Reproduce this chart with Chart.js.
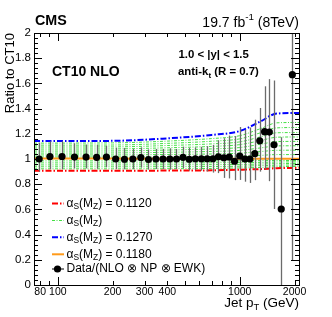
<!DOCTYPE html>
<html>
<head>
<meta charset="utf-8">
<script src="https://cdn.jsdelivr.net/npm/chart.js@4.4.1/dist/chart.umd.min.js"></script>
<style>
  html, body { margin: 0; padding: 0; background: #fff; }
  canvas { display: block; }
</style>
</head>
<body>
<canvas id="c" width="332" height="317"></canvas>
<script>
// --- data ---
const PT = [79, 90.5, 105.5, 123.5, 143, 163.5, 185, 208, 232.5, 258.5, 286, 315, 346, 378.5,
  412.5, 449, 487.5, 527.5, 570, 615, 662, 711.5, 763.5, 818, 875.5, 936, 999.5, 1066.5,
  1136.5, 1210, 1287.5, 1368.5, 1453.5, 1542.5, 1690, 1945];
const RATIO = [1.00, 1.02, 1.02, 1.015, 1.015, 1.013, 1.015, 1.00, 0.998, 1.00, 1.012, 0.996, 1.00, 1.00,
  1.00, 1.00, 1.013, 0.998, 1.002, 1.002, 1.002, 1.002, 1.018, 1.01, 1.016, 0.982, 1.024, 1.00,
  1.00, 1.042, 1.145, 1.217, 1.214, 1.113, 0.603, 1.669];
const ERR_UP = [0.13, 0.12, 0.12, 0.11, 0.10, 0.10, 0.09, 0.09, 0.09, 0.08, 0.08, 0.08, 0.08, 0.08,
  0.085, 0.08, 0.085, 0.09, 0.09, 0.095, 0.10, 0.11, 0.13, 0.155, 0.17, 0.20, 0.23, 0.23,
  0.25, 0.27, 0.26, 0.36, 0.42, 0.51, 0.57, 0.9];
const ERR_DN = [0.10, 0.10, 0.10, 0.09, 0.09, 0.09, 0.08, 0.08, 0.08, 0.08, 0.08, 0.08, 0.08, 0.08,
  0.085, 0.08, 0.085, 0.09, 0.09, 0.095, 0.10, 0.11, 0.13, 0.16, 0.17, 0.15, 0.19, 0.18,
  0.19, 0.21, 0.245, 0.30, 0.39, 0.51, 0.70, 1.47];

// theory ratios vs CT10, alpha_s scan
const THEORY_PT = [74, 200, 400, 700, 1000, 1300, 1600, 2116];
const AS_1120 = [0.907, 0.907, 0.908, 0.910, 0.915, 0.920, 0.927, 0.930];
const AS_1180 = [1.003, 1.003, 1.002, 1.002, 1.002, 1.002, 1.002, 1.002];
const AS_1270 = [1.142, 1.144, 1.164, 1.191, 1.222, 1.298, 1.361, 1.365];
const AS_SCAN = [
  [0.922, 0.922, 0.923, 0.925, 0.929, 0.933, 0.939, 0.942],
  [0.938, 0.938, 0.939, 0.940, 0.943, 0.947, 0.951, 0.953],
  [0.953, 0.953, 0.954, 0.955, 0.957, 0.960, 0.963, 0.965],
  [0.969, 0.969, 0.969, 0.970, 0.972, 0.973, 0.976, 0.977],
  [0.985, 0.985, 0.985, 0.985, 0.986, 0.987, 0.988, 0.988],
  [1.016, 1.016, 1.018, 1.020, 1.023, 1.029, 1.035, 1.035],
  [1.032, 1.032, 1.036, 1.040, 1.046, 1.059, 1.069, 1.070],
  [1.047, 1.048, 1.053, 1.060, 1.068, 1.088, 1.104, 1.105],
  [1.063, 1.064, 1.071, 1.080, 1.091, 1.117, 1.138, 1.140],
  [1.079, 1.080, 1.089, 1.100, 1.114, 1.146, 1.173, 1.175],
  [1.095, 1.096, 1.107, 1.120, 1.136, 1.176, 1.208, 1.210],
  [1.110, 1.111, 1.124, 1.141, 1.160, 1.208, 1.247, 1.250],
  [1.126, 1.128, 1.142, 1.162, 1.185, 1.241, 1.287, 1.290],
];

const X_LABELS = [80, 100, 200, 300, 400, 1000, 2000];
const X_MAJOR = [100, 1000];
const X_MINOR = [80, 90, 200, 300, 400, 500, 600, 700, 800, 900, 2000];
const Y_MIN = 0, Y_MAX = 2;

const FONT = "'Liberation Sans', Arial, Helvetica, sans-serif";
const RED = '#ff0000';
const GREEN = '#44e044';
const BLUE = '#0000ff';
const ORANGE = '#ff9a1a';
const DASHDOT = [6, 2, 1.5, 2];
const GREEN_DASH = [3, 1.5, 1, 1.5];

const pts = (ys) => THEORY_PT.map((x, i) => ({ x, y: ys[i] }));
const curve = (ys, color, width, dash, order) => ({
  type: 'line', data: pts(ys), borderColor: color, borderWidth: width, borderDash: dash,
  pointRadius: 0, fill: false, tension: 0.4, cubicInterpolationMode: 'monotone', order,
});

const datasets = [
  {
    type: 'line', data: PT.map((x, i) => ({ x, y: RATIO[i] })), showLine: false,
    pointRadius: 3.6, pointBackgroundColor: '#000', pointBorderColor: '#000', borderWidth: 0, order: 0,
  },
  curve(AS_1180, ORANGE, 2, [], 1),
  curve(AS_1270, BLUE, 2, DASHDOT, 2),
  curve(AS_1120, RED, 2, DASHDOT, 3),
  ...AS_SCAN.map((ys) => curve(ys, GREEN, 1, GREEN_DASH, 4)),
];

// error bars under the data markers
const errorBars = {
  id: 'errorBars',
  beforeDatasetDraw(chart, args) {
    if (args.index !== 0) return;
    const { ctx, chartArea: a, scales: { x, y } } = chart;
    ctx.save();
    ctx.beginPath();
    ctx.rect(a.left, a.top, a.right - a.left, a.bottom - a.top);
    ctx.clip();
    ctx.strokeStyle = '#6b6b6b';
    ctx.lineWidth = 1.3;
    PT.forEach((p, i) => {
      const px = Math.round(x.getPixelForValue(p)) + 0.5;
      ctx.beginPath();
      ctx.moveTo(px, y.getPixelForValue(RATIO[i] + ERR_UP[i]));
      ctx.lineTo(px, y.getPixelForValue(RATIO[i] - ERR_DN[i]));
      ctx.stroke();
    });
    ctx.restore();
  },
};

// ROOT-style frame with inward ticks on all four sides
const frame = {
  id: 'frame',
  afterDraw(chart) {
    const { ctx, chartArea: a, scales: { x, y } } = chart;
    ctx.save();
    ctx.strokeStyle = '#000';
    ctx.lineWidth = 1;
    ctx.strokeRect(Math.round(a.left) + 0.5, Math.round(a.top) + 0.5,
      Math.round(a.right - a.left), Math.round(a.bottom - a.top));
    ctx.beginPath();
    const xt = (v, len) => {
      const px = Math.round(x.getPixelForValue(v)) + 0.5;
      ctx.moveTo(px, a.bottom); ctx.lineTo(px, a.bottom - len);
      ctx.moveTo(px, a.top); ctx.lineTo(px, a.top + len);
    };
    X_MAJOR.forEach((v) => xt(v, 8));
    X_MINOR.forEach((v) => xt(v, 4));
    for (let k = 0; k <= 50; k++) {
      const v = Y_MIN + k * 0.04;
      const len = k % 5 === 0 ? 8 : 4;
      const py = Math.round(y.getPixelForValue(v)) + 0.5;
      ctx.moveTo(a.left, py); ctx.lineTo(a.left + len, py);
      ctx.moveTo(a.right, py); ctx.lineTo(a.right - len, py);
    }
    ctx.stroke();
    ctx.restore();
  },
};

// draw "main" + subscript/superscript runs, returns end x
function runs(ctx, parts, x, y, size, weight) {
  parts.forEach(([txt, kind]) => {
    const s = kind ? size * 0.7 : size;
    ctx.font = `${weight} ${s}px ${FONT}`;
    const dy = kind === 'sub' ? size * 0.3 : kind === 'sup' ? -size * 0.4 : 0;
    ctx.fillText(txt, x, y + dy);
    x += ctx.measureText(txt).width;
  });
  return x;
}
function runsWidth(ctx, parts, size, weight) {
  let w = 0;
  parts.forEach(([txt, kind]) => {
    ctx.font = `${weight} ${kind ? size * 0.7 : size}px ${FONT}`;
    w += ctx.measureText(txt).width;
  });
  return w;
}

const texts = {
  id: 'texts',
  afterDraw(chart) {
    const { ctx } = chart;
    ctx.save();
    ctx.fillStyle = '#000';
    ctx.textBaseline = 'middle';
    ctx.textAlign = 'left';

    runs(ctx, [['CMS']], 35, 21, 14.3, 'bold');
    const lumi = [['19.7 fb'], ['-1', 'sup'], [' (8TeV)']];
    runs(ctx, lumi, 299 - runsWidth(ctx, lumi, 14, 'normal'), 23, 14, 'normal');
    runs(ctx, [['CT10 NLO']], 52, 72, 14, 'bold');
    runs(ctx, [['1.0 < |y| < 1.5']], 178.5, 55, 11.4, 'bold');
    runs(ctx, [['anti-k'], ['t', 'sub'], [' (R = 0.7)']], 178, 72, 11.4, 'bold');

    const xt = [['Jet p'], ['T', 'sub'], [' (GeV)']];
    runs(ctx, xt, 299 - runsWidth(ctx, xt, 13.5, 'normal'), 303, 13.5, 'normal');

    ctx.save();
    ctx.translate(10, 33);
    ctx.rotate(-Math.PI / 2);
    ctx.font = `normal 13px ${FONT}`;
    ctx.textAlign = 'right';
    ctx.fillText('Ratio to CT10', 0, 0);
    ctx.restore();

    // legend
    const rows = [
      { y: 203.5, color: RED, dash: DASHDOT, w: 2, txt: ' = 0.1120' },
      { y: 220.5, color: GREEN, dash: GREEN_DASH, w: 1, txt: '' },
      { y: 237.3, color: BLUE, dash: DASHDOT, w: 2, txt: ' = 0.1270' },
      { y: 254.3, color: ORANGE, dash: [], w: 2, txt: ' = 0.1180' },
    ];
    rows.forEach((r) => {
      ctx.strokeStyle = r.color;
      ctx.lineWidth = r.w;
      ctx.setLineDash(r.dash);
      ctx.beginPath();
      ctx.moveTo(52, r.y); ctx.lineTo(64, r.y);
      ctx.stroke();
      ctx.setLineDash([]);
      ctx.fillStyle = '#000';
      runs(ctx, [['\u03b1'], ['S', 'sub'], ['(M'], ['Z', 'sub'], [')' + r.txt]], 66.5, r.y, 12, 'normal');
    });
    ctx.strokeStyle = '#000';
    ctx.lineWidth = 1;
    ctx.beginPath();
    ctx.moveTo(52, 269); ctx.lineTo(64, 269);
    ctx.stroke();
    ctx.beginPath();
    ctx.arc(57.5, 269, 3.6, 0, Math.PI * 2);
    ctx.fill();
    runs(ctx, [['Data/(NLO \u2297 NP \u2297 EWK)']], 66.5, 269, 12, 'normal');
    ctx.restore();
  },
};

new Chart(document.getElementById('c'), {
  data: { datasets },
  plugins: [errorBars, frame, texts],
  options: {
    responsive: false,
    animation: false,
    devicePixelRatio: 1,
    layout: { padding: { left: 0, right: 33, top: 33, bottom: 0 } },
    plugins: { legend: { display: false }, tooltip: { enabled: false } },
    scales: {
      x: {
        type: 'logarithmic', min: 74, max: 2116,
        grid: { display: false, drawTicks: false },
        border: { display: false },
        afterBuildTicks: (s) => { s.ticks = X_LABELS.map((v) => ({ value: v })); },
        afterFit: (s) => { s.height = 32; },
        ticks: {
          autoSkip: false, maxRotation: 0, padding: 1, color: '#000',
          font: { family: FONT, size: 10.5 },
          callback: (v) => String(v),
        },
      },
      y: {
        min: Y_MIN, max: Y_MAX,
        grid: { display: false, drawTicks: false },
        border: { display: false },
        afterFit: (s) => { s.width = 34; },
        ticks: {
          stepSize: 0.2, padding: 3, color: '#000',
          font: { family: FONT, size: 11.5 },
          callback: (v) => String(Number(v.toFixed(1))),
        },
      },
    },
  },
});
</script>
</body>
</html>
